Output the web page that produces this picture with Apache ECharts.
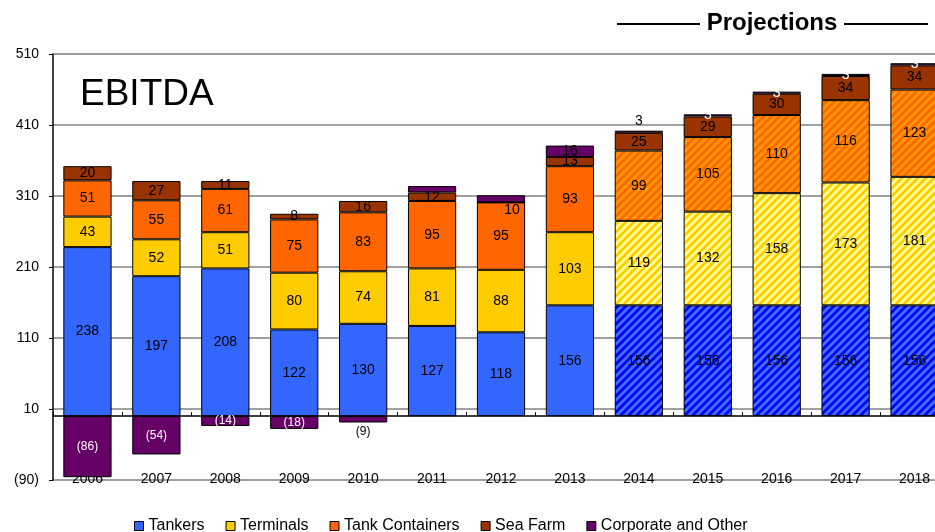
<!DOCTYPE html>
<html>
<head>
<meta charset="utf-8">
<script src="https://cdn.jsdelivr.net/npm/echarts@6/dist/echarts.min.js"></script>
<style>
  html, body { margin: 0; padding: 0; background: #ffffff; }
  #chart { width: 935px; height: 532px; }
</style>
</head>
<body>
<div id="chart"></div>
<script>
// EBITDA by segment, actuals 2006-2013 and projections 2014-2018
const years = ['2006', '2007', '2008', '2009', '2010', '2011', '2012', '2013', '2014', '2015', '2016', '2017', '2018'];
const tankers = [238, 197, 208, 122, 130, 127, 118, 156, 156, 156, 156, 156, 156];
const terminals = [43, 52, 51, 80, 74, 81, 88, 103, 119, 132, 158, 173, 181];
const tankContainers = [51, 55, 61, 75, 83, 95, 95, 93, 99, 105, 110, 116, 123];
const seaFarm = [20, 27, 11, 8, 16, 12, 0, 13, 25, 29, 30, 34, 34];
const corporate = [-86, -54, -14, -18, -9, 9, 10, 16, 3, 3, 3, 3, 3];
const yTicks = [-90, 10, 110, 210, 310, 410, 510];
const firstProjectionYear = '2014';

const FONT = "'Liberation Sans', Arial, sans-serif";
const projStart = years.indexOf(firstProjectionYear);

function fmt(v) {
  return v < 0 ? '(' + (-v) + ')' : String(v);
}

// diagonal hatching tile used for projected years
function hatch(base, stripe) {
  const s = 8;
  const c = document.createElement('canvas');
  c.width = s;
  c.height = s;
  const ctx = c.getContext('2d');
  ctx.fillStyle = base;
  ctx.fillRect(0, 0, s, s);
  ctx.strokeStyle = stripe;
  ctx.lineWidth = 2.8;
  ctx.beginPath();
  ctx.moveTo(-s, 2 * s); ctx.lineTo(2 * s, -s);
  ctx.moveTo(-s, s); ctx.lineTo(s, -s);
  ctx.moveTo(0, 2 * s); ctx.lineTo(2 * s, 0);
  ctx.stroke();
  return { image: c, repeat: 'repeat' };
}

function buildData(values, proj) {
  return values.map(function (v, i) {
    const item = { value: v };
    if (proj && i >= projStart) {
      item.itemStyle = { color: hatch(proj.base, proj.stripe) };
    }
    return item;
  });
}

const baseLabel = {
  show: true,
  position: 'inside',
  color: '#000',
  fontFamily: FONT,
  fontSize: 14,
  formatter: function (p) { return fmt(p.value); }
};

function barSeries(name, values, color, proj) {
  return {
    name: name,
    type: 'bar',
    stack: 'total',
    barCategoryGap: '30%',
    xAxisIndex: 0,
    data: buildData(values, proj),
    itemStyle: { color: color, borderColor: '#000', borderWidth: 1 },
    label: baseLabel,
    emphasis: { disabled: true }
  };
}

const sTankers = barSeries('Tankers', tankers, '#3366FF', { base: '#0000FF', stripe: '#3f73ff' });
const sTerminals = barSeries('Terminals', terminals, '#FFCC00', { base: '#FFFF99', stripe: '#FFCC00' });
const sContainers = barSeries('Tank Containers', tankContainers, '#FF6600', { base: '#FF9900', stripe: '#FF6600' });
const sSeaFarm = barSeries('Sea Farm', seaFarm, '#993300', null);
const sCorporate = barSeries('Corporate and Other', corporate, '#660066', null);

// small sea-farm value in 2012 carries no label
sSeaFarm.data[years.indexOf('2012')].label = { show: false };

// corporate labels vary with size and sign
sCorporate.data.forEach(function (d, i) {
  const y = years[i];
  if (d.value < 0) {
    d.label = { color: '#ffffff', fontSize: 12 };
  }
  if (y === '2010') d.label = { position: 'bottom', color: '#000', fontSize: 12, distance: 3 };
  if (y === '2011') d.label = { show: false };
  if (y === '2012') d.label = { offset: [11, 11] };
  if (y === firstProjectionYear) d.label = { position: 'top', color: '#000', distance: 3 };
  if (i > projStart) d.label = { color: '#ffffff' };
});

const chart = echarts.init(document.getElementById('chart'), null, { renderer: 'canvas' });

chart.setOption({
  animation: false,
  backgroundColor: '#ffffff',
  textStyle: { fontFamily: FONT },
  title: {
    text: 'EBITDA',
    left: 75,
    top: 71,
    textStyle: { fontFamily: FONT, fontSize: 37, fontWeight: 'normal', color: '#000' }
  },
  legend: {
    data: ['Tankers', 'Terminals', 'Tank Containers', 'Sea Farm', 'Corporate and Other'],
    left: 129,
    top: 513,
    icon: 'rect',
    itemWidth: 9,
    itemHeight: 9,
    itemGap: 21,
    selectedMode: false,
    itemStyle: { borderColor: '#000', borderWidth: 1 },
    textStyle: { fontFamily: FONT, fontSize: 16, color: '#000' }
  },
  // the plot area runs a little past the right edge of the page
  grid: { left: 53, top: 54, right: -14, bottom: 52, containLabel: false, outerBoundsMode: 'none' },
  xAxis: [
    {
      type: 'category',
      data: years,
      position: 'bottom',
      axisLine: { show: false, onZero: false },
      axisTick: { show: false },
      axisLabel: { margin: -8, color: '#000', fontFamily: FONT, fontSize: 14 }
    },
    {
      type: 'category',
      data: years,
      position: 'bottom',
      axisLine: { show: true, onZero: true, lineStyle: { color: '#000', width: 1.5 } },
      axisTick: { show: true, inside: true, length: 4, lineStyle: { color: '#000', width: 1 } },
      axisLabel: { show: false },
      splitLine: { show: false }
    }
  ],
  yAxis: {
    type: 'value',
    min: yTicks[0],
    max: yTicks[yTicks.length - 1],
    interval: yTicks[1] - yTicks[0],
    axisLine: { show: true, lineStyle: { color: '#000', width: 1.5 } },
    axisTick: { show: true, length: 4, lineStyle: { color: '#000' } },
    axisLabel: {
      margin: 14,
      color: '#000',
      fontFamily: FONT,
      fontSize: 14,
      formatter: function (v) { return fmt(v); }
    },
    splitLine: { show: true, lineStyle: { color: '#808080', width: 1.5 } }
  },
  graphic: [
    { type: 'line', shape: { x1: 617, y1: 24, x2: 700, y2: 24 }, style: { stroke: '#000', lineWidth: 2 } },
    { type: 'line', shape: { x1: 844, y1: 24, x2: 928, y2: 24 }, style: { stroke: '#000', lineWidth: 2 } },
    {
      type: 'text',
      x: 772,
      y: 23,
      style: {
        text: 'Projections',
        font: "bold 24px 'Liberation Sans', Arial, sans-serif",
        fill: '#000',
        align: 'center',
        verticalAlign: 'middle'
      }
    }
  ],
  series: [sTankers, sTerminals, sContainers, sSeaFarm, sCorporate]
});
</script>
</body>
</html>
